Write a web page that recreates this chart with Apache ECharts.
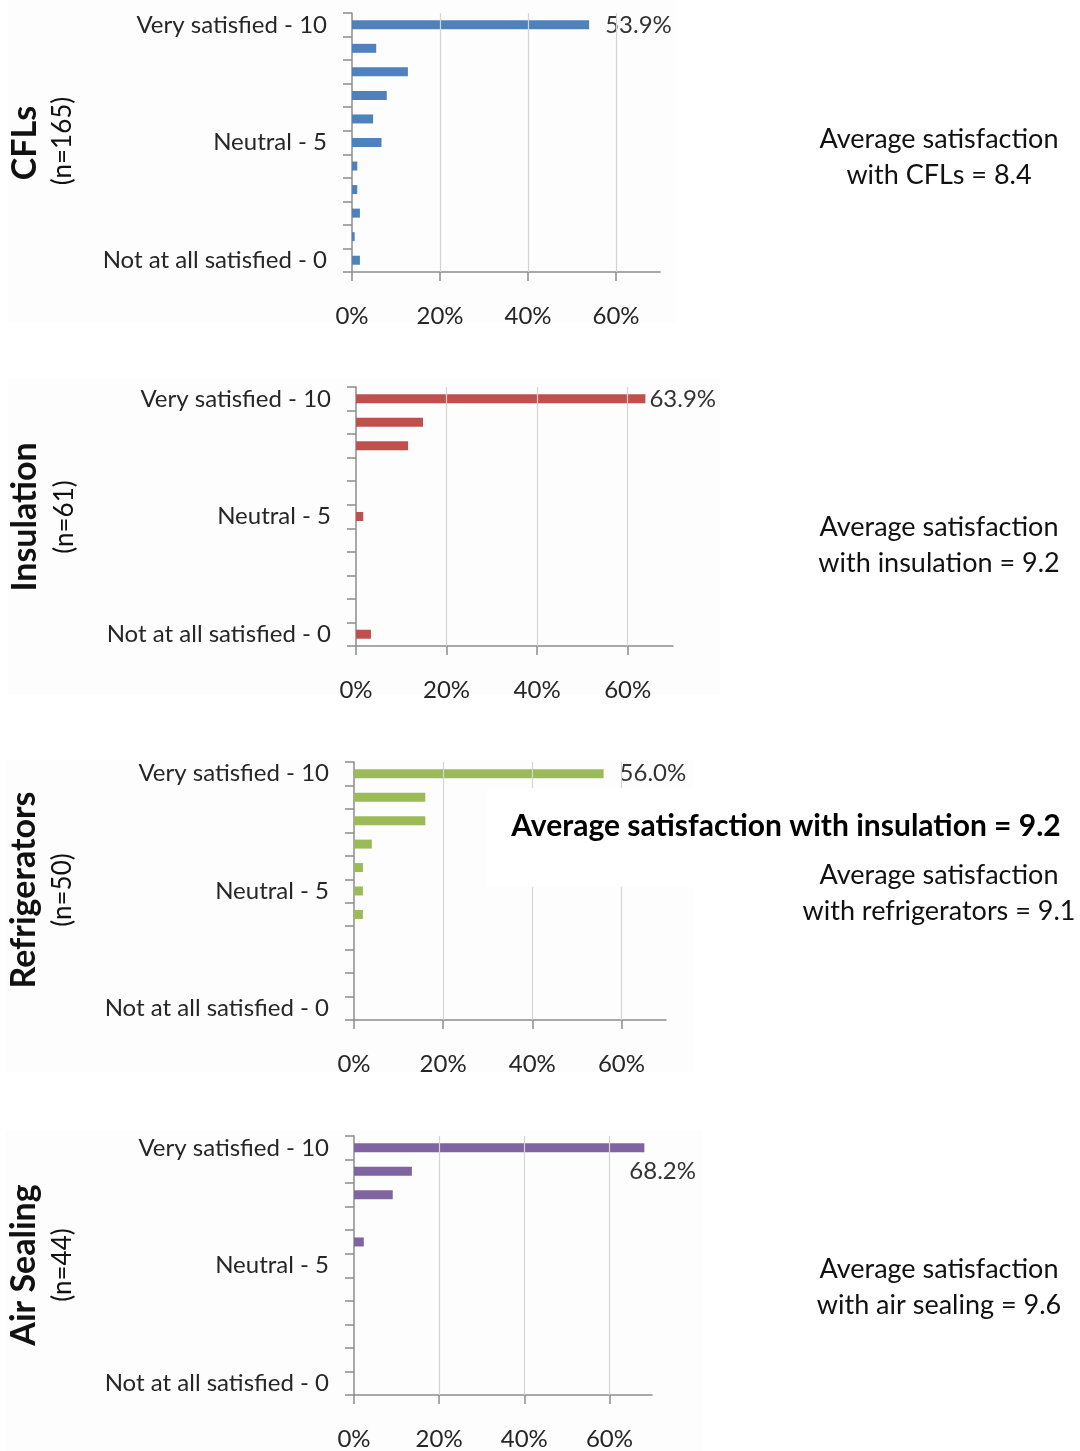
<!DOCTYPE html>
<html>
<head>
<meta charset="utf-8">
<script src="https://cdn.jsdelivr.net/npm/echarts@6/dist/echarts.min.js"></script>
<style>
  html, body { margin: 0; padding: 0; background: #ffffff; }
  #chart { width: 1080px; height: 1451px; }
</style>
</head>
<body>
<div id="chart"></div>
<script>
// Rating scale, bottom (0) to top (10)
const ratingLevels = ['Not at all satisfied - 0', '1', '2', '3', '4', 'Neutral - 5', '6', '7', '8', '9', 'Very satisfied - 10'];
const percentTicks = [0, 20, 40, 60];

// Share of respondents (%) at each rating, 0 .. 10
const cflShares        = [1.8, 0.6, 1.8, 1.2, 1.2, 6.7, 4.8, 7.9, 12.7, 5.5, 53.9];
const insulationShares = [3.3, 0, 0, 0, 0, 1.6, 0, 0, 11.5, 14.8, 63.9];
const fridgeShares     = [0, 0, 0, 0, 2.0, 2.0, 2.0, 4.0, 16.0, 16.0, 56.0];
const airSealShares    = [0, 0, 0, 0, 0, 0, 2.3, 0, 9.1, 13.6, 68.2];

const measureNames = ['CFLs', 'Insulation', 'Refrigerators', 'Air Sealing'];
const sampleSizes  = ['(n=165)', '(n=61)', '(n=50)', '(n=44)'];
const averageNotes = [
  ['Average satisfaction', 'with CFLs = 8.4'],
  ['Average satisfaction', 'with insulation = 9.2'],
  ['Average satisfaction', 'with refrigerators = 9.1'],
  ['Average satisfaction', 'with air sealing = 9.6']
];
const calloutNote = 'Average satisfaction with insulation = 9.2';

const seriesShares = [cflShares, insulationShares, fridgeShares, airSealShares];

// Layout and styling for each panel
const FONT = 'Lato, "Open Sans", sans-serif';
const panels = [
  { grid: { left: 352, top: 13,  width: 308, height: 259 }, color: '#4F81BD',
    label: { distance: 16, offset: [0, 0] }, bg: [8, 0, 668, 322],
    title: [25, 143], n: [63, 141], note: [939, 139] },
  { grid: { left: 356, top: 387, width: 317, height: 259 }, color: '#C0504D',
    label: { distance: 4, offset: [0, 0] }, bg: [8, 378, 712, 317],
    title: [25, 517], n: [65, 517], note: [939, 527] },
  { grid: { left: 354, top: 762, width: 312, height: 258 }, color: '#9BBB59',
    label: { distance: 16, offset: [0, 0] }, bg: [5, 760, 688, 312],
    title: [24, 890], n: [63, 890], note: [939, 875] },
  { grid: { left: 354, top: 1136, width: 298, height: 259 }, color: '#8064A2',
    label: { distance: 0, offset: [-15, 23] }, bg: [5, 1130, 698, 321],
    title: [24, 1265], n: [63, 1265], note: [939, 1269] }
];

const AXIS_GREY = '#8C8C8C';
const GRID_GREY = '#D4D4D4';
const TEXT = '#262626';

const grids = [], xAxes = [], yAxes = [], series = [], graphics = [];

panels.forEach((p, i) => {
  grids.push(Object.assign({ containLabel: false }, p.grid));

  xAxes.push({
    type: 'value', gridIndex: i, min: 0, max: 70, interval: 20,
    axisLine: { show: true, lineStyle: { color: AXIS_GREY, width: 1.5 } },
    axisTick: { show: true, length: 9, lineStyle: { color: AXIS_GREY, width: 1.5 }, customValues: percentTicks },
    axisLabel: { margin: 32, fontSize: 24, color: TEXT, fontFamily: FONT,
                 customValues: percentTicks, formatter: v => v + '%' },
    splitLine: { show: false }
  });

  yAxes.push({
    type: 'category', gridIndex: i, data: ratingLevels, boundaryGap: true,
    axisLine: { show: true, lineStyle: { color: AXIS_GREY, width: 1.5 } },
    axisTick: { show: true, length: 9, inside: false, lineStyle: { color: AXIS_GREY, width: 1.5 } },
    axisLabel: { interval: 0, margin: 25, fontSize: 24, color: TEXT, fontFamily: FONT,
                 formatter: v => (v.indexOf(' - ') >= 0 ? v : '') },
    splitLine: { show: false }
  });

  const shares = seriesShares[i];
  const top = shares.length - 1;
  series.push({
    type: 'bar', xAxisIndex: i, yAxisIndex: i, barWidth: 9,
    itemStyle: { color: p.color },
    data: shares.map((v, k) => k === top
      ? { value: v, label: { show: true, position: 'right', distance: p.label.distance, offset: p.label.offset,
                             formatter: d => d.value.toFixed(1) + '%', fontSize: 24, color: '#333333', fontFamily: FONT } }
      : v),
    markLine: {
      silent: true, symbol: 'none', label: { show: false },
      lineStyle: { color: GRID_GREY, width: 1.2, type: 'solid' },
      data: percentTicks.filter(t => t > 0).map(t => ({ xAxis: t }))
    },
    z: 3
  });

  // faint panel background
  graphics.push({
    type: 'rect', z: -10, silent: true,
    shape: { x: p.bg[0], y: p.bg[1], width: p.bg[2], height: p.bg[3] },
    style: { fill: '#FDFDFD' }
  });

  // rotated measure name and sample size
  graphics.push({
    type: 'text', x: p.title[0], y: p.title[1], rotation: Math.PI / 2, z: 20,
    style: { text: measureNames[i], fontSize: 34, fontWeight: 'bold', fill: '#111111', fontFamily: FONT,
             textAlign: 'center', textVerticalAlign: 'middle' }
  });
  graphics.push({
    type: 'text', x: p.n[0], y: p.n[1], rotation: Math.PI / 2, z: 20,
    style: { text: sampleSizes[i], fontSize: 26, fill: '#111111', fontFamily: FONT,
             textAlign: 'center', textVerticalAlign: 'middle' }
  });

  // average note on the right
  averageNotes[i].forEach((line, k) => {
    graphics.push({
      type: 'text', x: p.note[0], y: p.note[1] + k * 36, z: 20,
      style: { text: line, fontSize: 27, fill: '#111111', fontFamily: FONT,
               textAlign: 'center', textVerticalAlign: 'middle' }
    });
  });
});

// callout box over the refrigerator panel
graphics.push({
  type: 'rect', z: 15, silent: true,
  shape: { x: 487, y: 788, width: 593, height: 99 },
  style: { fill: '#FFFFFF' }
});
graphics.push({
  type: 'text', x: 786, y: 826, z: 20,
  style: { text: calloutNote, fontSize: 30, fontWeight: 'bold', fill: '#000000', fontFamily: FONT,
           textAlign: 'center', textVerticalAlign: 'middle' }
});

const chart = echarts.init(document.getElementById('chart'), null, { renderer: 'canvas' });
chart.setOption({
  backgroundColor: '#FFFFFF',
  animation: false,
  grid: grids,
  xAxis: xAxes,
  yAxis: yAxes,
  series: series,
  graphic: graphics
});
</script>
</body>
</html>
